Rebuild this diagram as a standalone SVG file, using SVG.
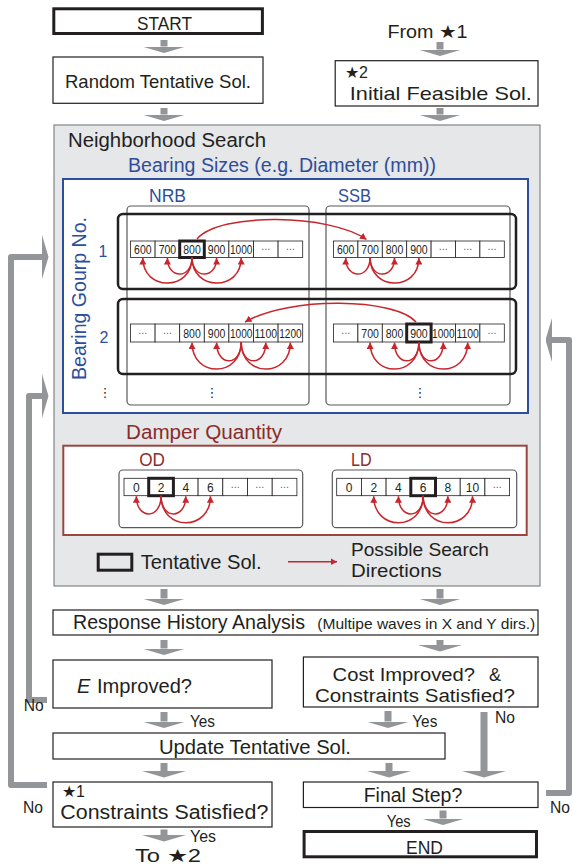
<svg xmlns="http://www.w3.org/2000/svg" width="573" height="867" viewBox="0 0 573 867">
<style>
text{font-family:"Liberation Sans",Arial,sans-serif;fill:#231f20}
.box{fill:#fff;stroke:#231f20;stroke-width:1.2}
.thick{fill:#fff;stroke:#231f20;stroke-width:3}
.t19{font-size:19px}
.t20{font-size:20px}
.t17{font-size:17px}
.blue{fill:#2d4e9c}
.dred{fill:#8a2c2a}
.cell{fill:#fff;stroke:#231f20;stroke-width:0.8}
.hl{fill:none;stroke:#231f20;stroke-width:3}
.col{fill:none;stroke:#58595b;stroke-width:1.2}
.row{fill:none;stroke:#231f20;stroke-width:2.5}
.num{font-size:12px;text-anchor:middle}
.dots{font-size:9px;text-anchor:middle;fill:#58595b;font-family:"DejaVu Sans",sans-serif}
.vd{font-size:13px;text-anchor:middle;font-family:"DejaVu Sans",sans-serif}
.ra{fill:none;stroke:#c9252c;stroke-width:1.5;marker-end:url(#rh)}
.ga{fill:none;stroke:#939598;stroke-width:7;marker-end:url(#gh)}
.loop{fill:none;stroke:#939598;stroke-width:6;stroke-linejoin:round;marker-end:url(#gh)}
</style>
<defs>
<marker id="rh" markerUnits="userSpaceOnUse" viewBox="0 0 6.5 7" refX="6.5" refY="3.5" markerWidth="6.5" markerHeight="7" orient="auto"><path d="M0,0 L6.5,3.5 L0,7 z" fill="#c9252c"/></marker>
<marker id="gh" markerUnits="userSpaceOnUse" viewBox="0 0 6.5 44" refX="0" refY="22" markerWidth="6.5" markerHeight="44" orient="auto"><path d="M0,0 L6.5,22 L0,44 z" fill="#939598"/></marker>
</defs>

<g id="start">
<rect class="thick" x="53.8" y="8.8" width="208.6" height="24.7"/>
<text class="t19" x="164.5" y="29.5" text-anchor="middle" textLength="55" lengthAdjust="spacingAndGlyphs">START</text>
</g>
<g id="random">
<rect class="box" x="53" y="57" width="210" height="46.3"/>
<text class="t19" x="65" y="87.5" textLength="186" lengthAdjust="spacingAndGlyphs">Random Tentative Sol.</text>
</g>
<g id="from1">
<text x="387.4" y="37.7" font-size="18" textLength="80" lengthAdjust="spacingAndGlyphs">From ★1</text>
</g>
<g id="initial">
<rect class="box" x="335.2" y="60.7" width="202.8" height="45.3"/>
<text x="345" y="78" font-size="16">★2</text>
<text class="t19" x="349.8" y="100" textLength="182" lengthAdjust="spacingAndGlyphs">Initial Feasible Sol.</text>
</g>

<g id="neighborhood">
<rect x="54" y="125" width="486" height="461" fill="#e6e7e8" stroke="#6d6e71" stroke-width="1"/>
<text class="t20" x="68" y="147" textLength="198" lengthAdjust="spacingAndGlyphs">Neighborhood Search</text>
</g>

<g id="bearing">
<text class="blue" x="128" y="172" font-size="19.5" textLength="308" lengthAdjust="spacingAndGlyphs">Bearing Sizes (e.g. Diameter (mm))</text>
<rect x="63" y="179" width="465" height="234" fill="#fff" stroke="#2d4e9c" stroke-width="2"/>
<text class="blue" x="149" y="202" font-size="19" textLength="37" lengthAdjust="spacingAndGlyphs">NRB</text>
<text class="blue" x="338" y="202" font-size="19" textLength="33" lengthAdjust="spacingAndGlyphs">SSB</text>
<text class="blue" transform="translate(86,298.5) rotate(-90)" font-size="19.5" text-anchor="middle" textLength="163" lengthAdjust="spacingAndGlyphs">Bearing Gourp No.</text>
<text class="blue" x="103" y="257" font-size="16" text-anchor="middle">1</text>
<text class="blue" x="104" y="343" font-size="16" text-anchor="middle">2</text>
<rect class="col" x="127" y="206" width="182" height="199" rx="4"/>
<rect class="col" x="326" y="206" width="184" height="199" rx="4"/>
<rect class="row" x="118" y="214" width="398" height="75" rx="5"/>
<rect class="row" x="118" y="299" width="398" height="75" rx="5"/>
<text class="vd" x="105" y="397">⋮</text>
<text class="vd" x="212" y="397">⋮</text>
<text class="vd" x="420" y="397">⋮</text>
</g>

<g id="row1-nrb">
<rect class="cell" x="130.5" y="241" width="24.6" height="16.5"/>
<rect class="cell" x="155.1" y="241" width="24.6" height="16.5"/>
<rect class="cell" x="179.7" y="241" width="24.6" height="16.5"/>
<rect class="cell" x="204.3" y="241" width="24.6" height="16.5"/>
<rect class="cell" x="228.9" y="241" width="24.6" height="16.5"/>
<rect class="cell" x="253.5" y="241" width="24.6" height="16.5"/>
<rect class="cell" x="278.1" y="241" width="24.6" height="16.5"/>
<rect class="hl" x="179.7" y="241" width="24.6" height="16.5"/>
<text class="num" x="142.8" y="254" textLength="17.5" lengthAdjust="spacingAndGlyphs">600</text>
<text class="num" x="167.4" y="254" textLength="17.5" lengthAdjust="spacingAndGlyphs">700</text>
<text class="num" x="192" y="254" textLength="17.5" lengthAdjust="spacingAndGlyphs">800</text>
<text class="num" x="216.6" y="254" textLength="17.5" lengthAdjust="spacingAndGlyphs">900</text>
<text class="num" x="241.2" y="254" textLength="22.5" lengthAdjust="spacingAndGlyphs">1000</text>
<text class="dots" x="265.8" y="252">⋯</text>
<text class="dots" x="290.4" y="252">⋯</text>
</g>
<g id="row1-ssb">
<rect class="cell" x="333.5" y="241" width="24.4" height="16.5"/>
<rect class="cell" x="357.9" y="241" width="24.4" height="16.5"/>
<rect class="cell" x="382.3" y="241" width="24.4" height="16.5"/>
<rect class="cell" x="406.7" y="241" width="24.4" height="16.5"/>
<rect class="cell" x="431.1" y="241" width="24.4" height="16.5"/>
<rect class="cell" x="455.5" y="241" width="24.4" height="16.5"/>
<rect class="cell" x="479.9" y="241" width="24.4" height="16.5"/>
<text class="num" x="345.7" y="254" textLength="17.5" lengthAdjust="spacingAndGlyphs">600</text>
<text class="num" x="370.1" y="254" textLength="17.5" lengthAdjust="spacingAndGlyphs">700</text>
<text class="num" x="394.5" y="254" textLength="17.5" lengthAdjust="spacingAndGlyphs">800</text>
<text class="num" x="418.9" y="254" textLength="17.5" lengthAdjust="spacingAndGlyphs">900</text>
<text class="dots" x="443.3" y="252">⋯</text>
<text class="dots" x="467.7" y="252">⋯</text>
<text class="dots" x="492.1" y="252">⋯</text>
</g>
<g id="row2-nrb">
<rect class="cell" x="130.5" y="324" width="24.6" height="18"/>
<rect class="cell" x="155.1" y="324" width="24.6" height="18"/>
<rect class="cell" x="179.7" y="324" width="24.6" height="18"/>
<rect class="cell" x="204.3" y="324" width="24.6" height="18"/>
<rect class="cell" x="228.9" y="324" width="24.6" height="18"/>
<rect class="cell" x="253.5" y="324" width="24.6" height="18"/>
<rect class="cell" x="278.1" y="324" width="24.6" height="18"/>
<text class="dots" x="142.8" y="336">⋯</text>
<text class="dots" x="167.4" y="336">⋯</text>
<text class="num" x="192" y="338" textLength="17.5" lengthAdjust="spacingAndGlyphs">800</text>
<text class="num" x="216.6" y="338" textLength="17.5" lengthAdjust="spacingAndGlyphs">900</text>
<text class="num" x="241.2" y="338" textLength="22.5" lengthAdjust="spacingAndGlyphs">1000</text>
<text class="num" x="265.8" y="338" textLength="22.5" lengthAdjust="spacingAndGlyphs">1100</text>
<text class="num" x="290.4" y="338" textLength="22.5" lengthAdjust="spacingAndGlyphs">1200</text>
</g>
<g id="row2-ssb">
<rect class="cell" x="333.5" y="324" width="24.4" height="18"/>
<rect class="cell" x="357.9" y="324" width="24.4" height="18"/>
<rect class="cell" x="382.3" y="324" width="24.4" height="18"/>
<rect class="cell" x="406.7" y="324" width="24.4" height="18"/>
<rect class="cell" x="431.1" y="324" width="24.4" height="18"/>
<rect class="cell" x="455.5" y="324" width="24.4" height="18"/>
<rect class="cell" x="479.9" y="324" width="24.4" height="18"/>
<rect class="hl" x="406.7" y="324" width="24.4" height="18"/>
<text class="dots" x="345.7" y="336">⋯</text>
<text class="num" x="370.1" y="338" textLength="17.5" lengthAdjust="spacingAndGlyphs">700</text>
<text class="num" x="394.5" y="338" textLength="17.5" lengthAdjust="spacingAndGlyphs">800</text>
<text class="num" x="418.9" y="338" textLength="17.5" lengthAdjust="spacingAndGlyphs">900</text>
<text class="num" x="443.3" y="338" textLength="22.5" lengthAdjust="spacingAndGlyphs">1000</text>
<text class="num" x="467.7" y="338" textLength="22.5" lengthAdjust="spacingAndGlyphs">1100</text>
<text class="dots" x="492.1" y="336">⋯</text>
</g>

<g id="damper">
<text class="dred" x="126" y="439" font-size="20" textLength="156" lengthAdjust="spacingAndGlyphs">Damper Quantity</text>
<rect x="63.3" y="445.7" width="463.4" height="89.3" fill="#fff" stroke="#9a4540" stroke-width="2"/>
<text class="dred" x="139.3" y="466" font-size="19" textLength="25.7" lengthAdjust="spacingAndGlyphs">OD</text>
<text class="dred" x="351" y="466" font-size="19" textLength="20.7" lengthAdjust="spacingAndGlyphs">LD</text>
<rect class="col" x="119" y="470" width="183.7" height="57.7" rx="4"/>
<rect class="col" x="332.3" y="470" width="184.4" height="57.7" rx="4"/>
</g>
<g id="od">
<rect class="cell" x="124" y="478.3" width="24.7" height="17.4"/>
<rect class="cell" x="148.7" y="478.3" width="24.7" height="17.4"/>
<rect class="cell" x="173.4" y="478.3" width="24.7" height="17.4"/>
<rect class="cell" x="198.1" y="478.3" width="24.7" height="17.4"/>
<rect class="cell" x="222.8" y="478.3" width="24.7" height="17.4"/>
<rect class="cell" x="247.5" y="478.3" width="24.7" height="17.4"/>
<rect class="cell" x="272.2" y="478.3" width="24.7" height="17.4"/>
<rect class="hl" x="148.7" y="478.3" width="24.7" height="17.4"/>
<text class="num" x="136.35" y="492">0</text>
<text class="num" x="161.05" y="492">2</text>
<text class="num" x="185.75" y="492">4</text>
<text class="num" x="210.45" y="492">6</text>
<text class="dots" x="235.15" y="489.5">⋯</text>
<text class="dots" x="259.85" y="489.5">⋯</text>
<text class="dots" x="284.55" y="489.5">⋯</text>
</g>
<g id="ld">
<rect class="cell" x="336.7" y="478.3" width="24.7" height="17.4"/>
<rect class="cell" x="361.4" y="478.3" width="24.7" height="17.4"/>
<rect class="cell" x="386.1" y="478.3" width="24.7" height="17.4"/>
<rect class="cell" x="410.8" y="478.3" width="24.7" height="17.4"/>
<rect class="cell" x="435.5" y="478.3" width="24.7" height="17.4"/>
<rect class="cell" x="460.2" y="478.3" width="24.7" height="17.4"/>
<rect class="cell" x="484.9" y="478.3" width="24.7" height="17.4"/>
<rect class="hl" x="410.8" y="478.3" width="24.7" height="17.4"/>
<text class="num" x="349.05" y="492">0</text>
<text class="num" x="373.75" y="492">2</text>
<text class="num" x="398.45" y="492">4</text>
<text class="num" x="423.15" y="492">6</text>
<text class="num" x="447.85" y="492">8</text>
<text class="num" x="472.55" y="492">10</text>
<text class="dots" x="497.25" y="489.5">⋯</text>
</g>

<g id="legend">
<rect class="hl" x="98.2" y="554.2" width="33.6" height="16"/>
<text class="t20" x="140.7" y="569" textLength="121" lengthAdjust="spacingAndGlyphs">Tentative Sol.</text>
<text x="351" y="556" font-size="18" textLength="138" lengthAdjust="spacingAndGlyphs">Possible Search</text>
<text x="351" y="576.5" font-size="18" textLength="90.7" lengthAdjust="spacingAndGlyphs">Directions</text>
</g>

<g id="response">
<rect class="box" x="53" y="610" width="485" height="25"/>
<text x="73" y="629" font-size="19.5" textLength="232" lengthAdjust="spacingAndGlyphs">Response History Analysis</text>
<text x="317.3" y="629" font-size="14.5" textLength="218" lengthAdjust="spacingAndGlyphs">(Multipe waves in X and Y dirs.)</text>
</g>
<g id="e-improved">
<rect class="box" x="53" y="660" width="219" height="48"/>
<text x="77" y="693" font-size="20" font-style="italic">E</text>
<text x="97" y="693" font-size="20" textLength="95" lengthAdjust="spacingAndGlyphs">Improved?</text>
</g>
<g id="cost">
<rect class="box" x="303.4" y="657" width="234.6" height="50"/>
<text x="332.6" y="681" font-size="18" textLength="142.4" lengthAdjust="spacingAndGlyphs">Cost Improved?</text>
<text x="489" y="681" font-size="18">&amp;</text>
<text x="315" y="702" font-size="18" textLength="200" lengthAdjust="spacingAndGlyphs">Constraints Satisfied?</text>
</g>
<g id="update">
<rect class="box" x="53" y="733" width="392" height="26"/>
<text x="159" y="753.5" font-size="19.5" textLength="192" lengthAdjust="spacingAndGlyphs">Update Tentative Sol.</text>
</g>
<g id="constraints">
<rect class="box" x="53" y="782" width="219" height="45"/>
<text x="62" y="797" font-size="16">★1</text>
<text x="60.3" y="818.5" font-size="19.5" textLength="208" lengthAdjust="spacingAndGlyphs">Constraints Satisfied?</text>
</g>
<g id="final">
<rect class="box" x="303.4" y="782" width="234.6" height="25.5"/>
<text x="363.7" y="801.5" font-size="19.5" textLength="98.6" lengthAdjust="spacingAndGlyphs">Final Step?</text>
</g>
<g id="end">
<rect class="thick" x="304.1" y="831.5" width="232.4" height="25.3"/>
<text x="424.5" y="853.5" font-size="19" text-anchor="middle" textLength="37" lengthAdjust="spacingAndGlyphs">END</text>
</g>
<g id="to2">
<text x="135" y="861.5" font-size="18" textLength="66" lengthAdjust="spacingAndGlyphs">To ★2</text>
</g>

<g id="connectors">
<line class="ga" x1="164" y1="40" x2="164" y2="46.5"/>
<line class="ga" x1="440" y1="42" x2="440" y2="49.5"/>
<line class="ga" x1="164" y1="108" x2="164" y2="114.5"/>
<line class="ga" x1="440" y1="108" x2="440" y2="114.5"/>
<line class="ga" x1="164" y1="589" x2="164" y2="598.5"/>
<line class="ga" x1="440" y1="589" x2="440" y2="598.5"/>
<line class="ga" x1="164" y1="640" x2="164" y2="648.5"/>
<line class="ga" x1="440" y1="640" x2="440" y2="645"/>
<line class="ga" x1="164" y1="712" x2="164" y2="721.5"/>
<line class="ga" x1="388" y1="711" x2="388" y2="721.5"/>
<line class="ga" x1="484" y1="712" x2="484" y2="771"/>
<line class="ga" x1="164" y1="763" x2="164" y2="771"/>
<line class="ga" x1="389" y1="763" x2="389" y2="771"/>
<line class="ga" x1="164" y1="829.5" x2="164" y2="835"/>
<line class="ga" x1="443" y1="810.5" x2="443" y2="818.5"/>
<polyline class="loop" points="47,785 11,785 11,257 42,257"/>
<polyline class="loop" points="47,700 29,700 29,396 42,396"/>
<polyline class="loop" points="546,793 569,793 569,340 552,340"/>
<text class="t17" x="23.8" y="711" textLength="20" lengthAdjust="spacingAndGlyphs">No</text>
<text class="t17" x="23" y="813" textLength="20" lengthAdjust="spacingAndGlyphs">No</text>
<text class="t17" x="550" y="813" textLength="20" lengthAdjust="spacingAndGlyphs">No</text>
<text class="t17" x="495" y="723" textLength="20" lengthAdjust="spacingAndGlyphs">No</text>
<text class="t17" x="190" y="726.5" textLength="25" lengthAdjust="spacingAndGlyphs">Yes</text>
<text class="t17" x="412.3" y="726.5" textLength="25" lengthAdjust="spacingAndGlyphs">Yes</text>
<text class="t17" x="386.7" y="826.5" textLength="24" lengthAdjust="spacingAndGlyphs">Yes</text>
<text class="t17" x="190" y="841.5" textLength="26" lengthAdjust="spacingAndGlyphs">Yes</text>

<path class="ra" d="M192 257.5 C192 291.5 142.8 291.5 142.8 258"/>
<path class="ra" d="M192 257.5 C192 279.5 167.4 279.5 167.4 258"/>
<path class="ra" d="M192 257.5 C192 279.5 216.6 279.5 216.6 258"/>
<path class="ra" d="M192 257.5 C192 291.5 241.2 291.5 241.2 258"/>
<path class="ra" d="M370.1 257.5 C370.1 279.5 345.7 279.5 345.7 258"/>
<path class="ra" d="M370.1 257.5 C370.1 279.5 394.5 279.5 394.5 258"/>
<path class="ra" d="M370.1 257.5 C370.1 291.5 418.9 291.5 418.9 258"/>
<path class="ra" d="M197 239 C220 212 330 214 366.5 239.5"/>

<path class="ra" d="M241.2 342 C241.2 378 192 378 192 342.5"/>
<path class="ra" d="M241.2 342 C241.2 367 216.6 367 216.6 342.5"/>
<path class="ra" d="M241.2 342 C241.2 367 265.8 367 265.8 342.5"/>
<path class="ra" d="M241.2 342 C241.2 378 290.4 378 290.4 342.5"/>
<path class="ra" d="M418.9 342 C418.9 378 370.1 378 370.1 342.5"/>
<path class="ra" d="M418.9 342 C418.9 367 394.5 367 394.5 342.5"/>
<path class="ra" d="M418.9 342 C418.9 367 443.3 367 443.3 342.5"/>
<path class="ra" d="M418.9 342 C418.9 378 467.7 378 467.7 342.5"/>
<path class="ra" d="M416 322 C395 298 290 296 245 322"/>

<path class="ra" d="M161.05 495.7 C161.05 520 136.35 520 136.35 496.2"/>
<path class="ra" d="M161.05 495.7 C161.05 520 185.75 520 185.75 496.2"/>
<path class="ra" d="M161.05 495.7 C161.05 531.7 210.45 531.7 210.45 496.2"/>
<path class="ra" d="M423.15 495.7 C423.15 531.7 373.75 531.7 373.75 496.2"/>
<path class="ra" d="M423.15 495.7 C423.15 520 398.45 520 398.45 496.2"/>
<path class="ra" d="M423.15 495.7 C423.15 520 447.85 520 447.85 496.2"/>
<path class="ra" d="M423.15 495.7 C423.15 531.7 472.55 531.7 472.55 496.2"/>

<path class="ra" d="M288 561.7 L337 561.7"/>
</g>
</svg>
